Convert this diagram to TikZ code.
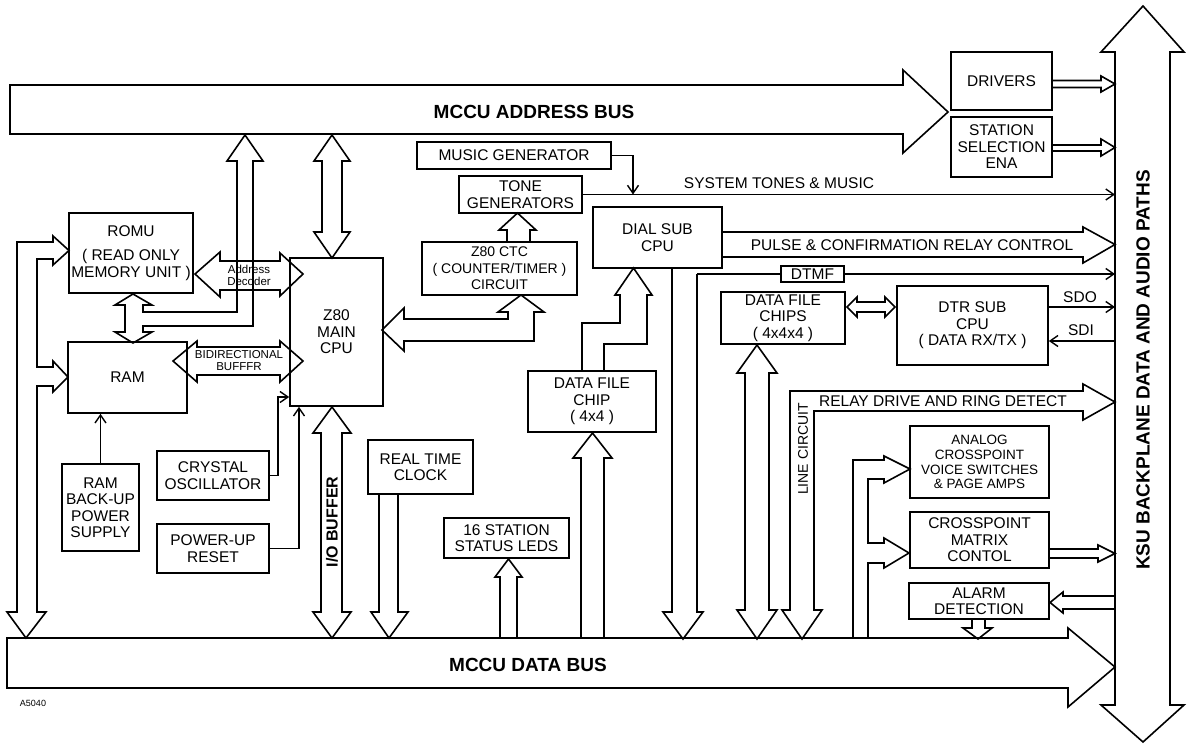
\documentclass[tikz,border=0pt]{standalone}
\usepackage{fontspec}
\setmainfont{Liberation Sans}
\usetikzlibrary{arrows.meta, positioning, calc}

\begin{document}
\begin{tikzpicture}[x=1pt, y=-1pt,
    blk/.style={draw, line width=1.6pt, align=center, inner sep=0pt, font=\fontsize{15.5}{16.5}\selectfont},
    bus/.style={draw, line width=1.6pt},
    sig/.style={draw, line width=1.4pt, -{Straight Barb[length=8pt, width=11pt]}},
    lbl/.style={font=\fontsize{15.5}{16.5}\selectfont, inner sep=1pt},
    tiny/.style={font=\fontsize{11.5}{12}\selectfont, align=center, inner sep=0pt},
    ttl/.style={font=\fontsize{19}{21}\selectfont\bfseries, inner sep=1pt}]
        \path[use as bounding box, fill=white] (0,0) rectangle (1188,744);

        \node[blk, minimum width=124, minimum height=80] (romu) at (131,253) {ROMU\\[8pt]( READ ONLY\\MEMORY UNIT )};
        \node[blk, minimum width=119, minimum height=71] (ram) at (127.5,377.5) {RAM};
        \node[blk, minimum width=77, minimum height=87] (backup) at (100.5,507.5) {RAM\\BACK-UP\\POWER\\SUPPLY};
        \node[blk, minimum width=93, minimum height=148] (cpu) at (336.5,332) {Z80\\MAIN\\CPU};
        \node[blk, minimum width=112, minimum height=49] (xtal) at (213,475.5) {CRYSTAL\\OSCILLATOR};
        \node[blk, minimum width=112, minimum height=49] (pwrup) at (213,548.5) {POWER-UP\\RESET};
        \node[blk, minimum width=105, minimum height=54] (rtc) at (420.5,467) {REAL TIME\\CLOCK};
        \node[blk, minimum width=125, minimum height=40] (leds) at (506.5,538) {16 STATION\\STATUS LEDS};
        \node[blk, minimum width=128, minimum height=61] (dfc) at (592,401.5) {DATA FILE\\CHIP\\( 4x4 )};
        \node[blk, minimum width=194, minimum height=27] (music) at (514,155.5) {MUSIC GENERATOR};
        \node[blk, minimum width=123, minimum height=37] (tone) at (520.5,194.5) {TONE\\GENERATORS};
        \node[blk, minimum width=155, minimum height=53, font=\fontsize{14}{16.5}\selectfont] (ctc) at (499.5,268.5) {Z80 CTC\\( COUNTER/TIMER )\\CIRCUIT};
        \node[blk, minimum width=129, minimum height=61] (dial) at (657.5,237.5) {DIAL SUB\\CPU};
        \node[blk, minimum width=124, minimum height=52] (dfcs) at (783,318) {DATA FILE\\CHIPS\\( 4x4x4 )};
        \node[blk, minimum width=151, minimum height=79] (dtr) at (972.5,325.5) {DTR SUB\\CPU\\( DATA RX/TX )};
        \node[blk, minimum width=63, minimum height=16] (dtmf) at (812.5,274) {DTMF};
        \node[blk, minimum width=101, minimum height=58] (drivers) at (1001.5,81) {DRIVERS};
        \node[blk, minimum width=101, minimum height=60] (station) at (1001.5,147) {STATION\\SELECTION\\ENA};
        \node[blk, minimum width=139, minimum height=72, font=\fontsize{13.5}{14.7}\selectfont] (analog) at (979.5,462) {ANALOG\\CROSSPOINT\\VOICE SWITCHES\\\& PAGE AMPS};
        \node[blk, minimum width=139, minimum height=56] (matrix) at (979.5,540) {CROSSPOINT\\MATRIX\\CONTOL};
        \node[blk, minimum width=140, minimum height=36] (alarm) at (979,601) {ALARM\\DETECTION};

        \draw[bus] (10,85) -- (903,85) -- (903,70) -- (948,112) -- (903,153) -- (903,134) -- (10,134) -- cycle;
        \draw[bus] (7,638) -- (1068,638) -- (1068,628) -- (1115,667) -- (1068,707) -- (1068,688) -- (7,688) -- cycle;
        \draw[bus] (1143,6) -- (1184,52) -- (1170,52) -- (1170,705) -- (1184,705) -- (1143,742) -- (1101,705) -- (1115,705) -- (1115,52) -- (1101,52) -- cycle;
        \node[ttl] (addr) at (534,112) {MCCU ADDRESS BUS};
        \node[ttl] (data) at (528,665) {MCCU DATA BUS};
        \node[ttl, rotate=90] (ksu) at (1143,370) {KSU BACKPLANE DATA AND AUDIO PATHS};

        \draw[bus] (26,638) -- (46,612) -- (37,612) -- (37,386) -- (53,386) -- (53,392) -- (68,377) -- (53,361) -- (53,367) -- (37,367) -- (37,259) -- (53,259) -- (53,265) -- (69,250.5) -- (53,236) -- (53,242) -- (17,242) -- (17,612) -- (7,612) -- cycle;
        \draw[bus] (133,294) -- (152,305) -- (143,305) -- (143,312) -- (237,312) -- (237,161) -- (227,161) -- (245,135) -- (263,161) -- (253,161) -- (253,326) -- (143,326) -- (143,332) -- (152,332) -- (133,343) -- (115,332) -- (125,332) -- (125,305) -- (115,305) -- cycle;
        \draw[bus] (332,135) -- (350,161) -- (342,161) -- (342,232) -- (350,232) -- (332,258) -- (314,232) -- (322,232) -- (322,161) -- (314,161) -- cycle;
        \draw[bus] (195,274) -- (220,252) -- (220,261) -- (280,261) -- (280,253) -- (303,274) -- (280,296) -- (280,290) -- (220,290) -- (220,297) -- cycle;
        \draw[bus] (173,361) -- (197,341) -- (197,347) -- (280,347) -- (280,341) -- (303,361) -- (280,382) -- (280,375) -- (197,375) -- (197,382) -- cycle;
        \node[tiny] (dec) at (249,275) {Address\\Decoder};
        \node[tiny] (buf) at (239,361) {BIDIRECTIONAL\\BUFFFR};

        \draw[bus] (382,330) -- (404,308) -- (404,319) -- (508,319) -- (508,312) -- (498,312) -- (521,295) -- (544,312) -- (534,312) -- (534,341) -- (404,341) -- (404,351) -- cycle;
        \draw[bus] (507,242) -- (507,230) -- (499,230) -- (517.5,213) -- (536,230) -- (530,230) -- (530,242);
        \draw[bus] (332,407) -- (351,433) -- (342,433) -- (342,612) -- (351,612) -- (332,638) -- (313,612) -- (321,612) -- (321,433) -- (313,433) -- cycle;
        \node[font=\fontsize{16}{17}\selectfont\bfseries, rotate=90] (iob) at (332,522) {I/O BUFFER};
        \draw[bus] (379,494) -- (379,612) -- (371,612) -- (389,638) -- (408,612) -- (398,612) -- (398,494);
        \draw[bus] (500,638) -- (500,577) -- (495,577) -- (508.5,559) -- (522,577) -- (517,577) -- (517,638);
        \draw[bus] (581,638) -- (581,458) -- (573,458) -- (592.5,433) -- (612,458) -- (604,458) -- (604,638);
        \draw[bus] (582,371) -- (582,323) -- (620,323) -- (620,295) -- (615,295) -- (633.5,268) -- (652,295) -- (647,295) -- (647,344) -- (604,344) -- (604,371);
        \draw[bus] (672,268) -- (672,612) -- (663,612) -- (683,639) -- (703,612) -- (697,612) -- (697,274);
        \draw[bus] (722,232) -- (1083,232) -- (1083,227) -- (1115,244.5) -- (1083,263) -- (1083,257) -- (722,257);
        \node[lbl] (pulse) at (912,245) {PULSE \& CONFIRMATION RELAY CONTROL};

        \draw[bus] (847,307) -- (857,297) -- (857,302) -- (885,302) -- (885,297) -- (895,307) -- (885,317) -- (885,312) -- (857,312) -- (857,317) -- cycle;
        \draw[bus] (757,345) -- (777,373) -- (769,373) -- (769,610) -- (777,610) -- (757,639) -- (737,610) -- (745,610) -- (745,373) -- (737,373) -- cycle;
        \draw[bus] (802,639) -- (822,610) -- (814,610) -- (814,411) -- (1083,411) -- (1083,420) -- (1115,402) -- (1083,384) -- (1083,391) -- (790,391) -- (790,610) -- (782,610) -- cycle;
        \node[lbl] (relay) at (943,401) {RELAY DRIVE AND RING DETECT};
        \node[lbl, rotate=90, font=\fontsize{14}{15}\selectfont] (linec) at (803,449) {LINE CIRCUIT};
        \draw[bus] (853,638) -- (853,460) -- (884,460) -- (884,456) -- (910,469) -- (884,483) -- (884,479) -- (868,479) -- (868,543) -- (884,543) -- (884,538) -- (909,553) -- (884,568) -- (884,563) -- (868,563) -- (868,638);
        \draw[bus] (1049,549) -- (1098,549) -- (1098,545) -- (1115,553.5) -- (1098,562) -- (1098,558) -- (1049,558);
        \draw[bus] (1052,80.5) -- (1101,80.5) -- (1101,76) -- (1115,84) -- (1101,92) -- (1101,87.5) -- (1052,87.5);
        \draw[bus] (1052,145) -- (1101,145) -- (1101,139) -- (1115,147.5) -- (1101,156) -- (1101,151) -- (1052,151);
        \draw[bus] (1115,596) -- (1063,596) -- (1063,592) -- (1050,602.5) -- (1063,613) -- (1063,609) -- (1115,609);
        \draw[bus] (972,619) -- (972,628) -- (963,628) -- (978,639) -- (992,628) -- (985,628) -- (985,619);

        \coordinate (bpl) at (1115,0);
        \coordinate (mix) at (633,194.5);
        \coordinate (dt) at (697,274);
        \draw[sig] (music.east) -| (mix);
        \draw[sig] (tone.east) -- (tone.east -| bpl);
        \node[lbl] (tones) at (779,183) {SYSTEM TONES \& MUSIC};
        \draw[line width=1.4pt] (dt) -- (dtmf.west);
        \draw[sig] (dtmf.east) -- (dtmf.east -| bpl);
        \draw[sig] (dtr.east |- 0,307) -- (bpl |- 0,307);
        \draw[sig] (bpl |- 0,341) -- (dtr.east |- 0,341);
        \node[lbl] (sdo) at (1080,297) {SDO};
        \node[lbl] (sdi) at (1081,330) {SDI};
        \draw[sig] (xtal.east) -- ++(8,0) |- (cpu.west |- 0,397);
        \draw[sig] (pwrup.east) -| (cpu.south -| 299,0);
        \draw[sig] (backup.north) -- (backup.north |- ram.south);
        \node[font=\fontsize{9}{10}\selectfont] (ref) at (33,703) {A5040};
\end{tikzpicture}
\end{document}
